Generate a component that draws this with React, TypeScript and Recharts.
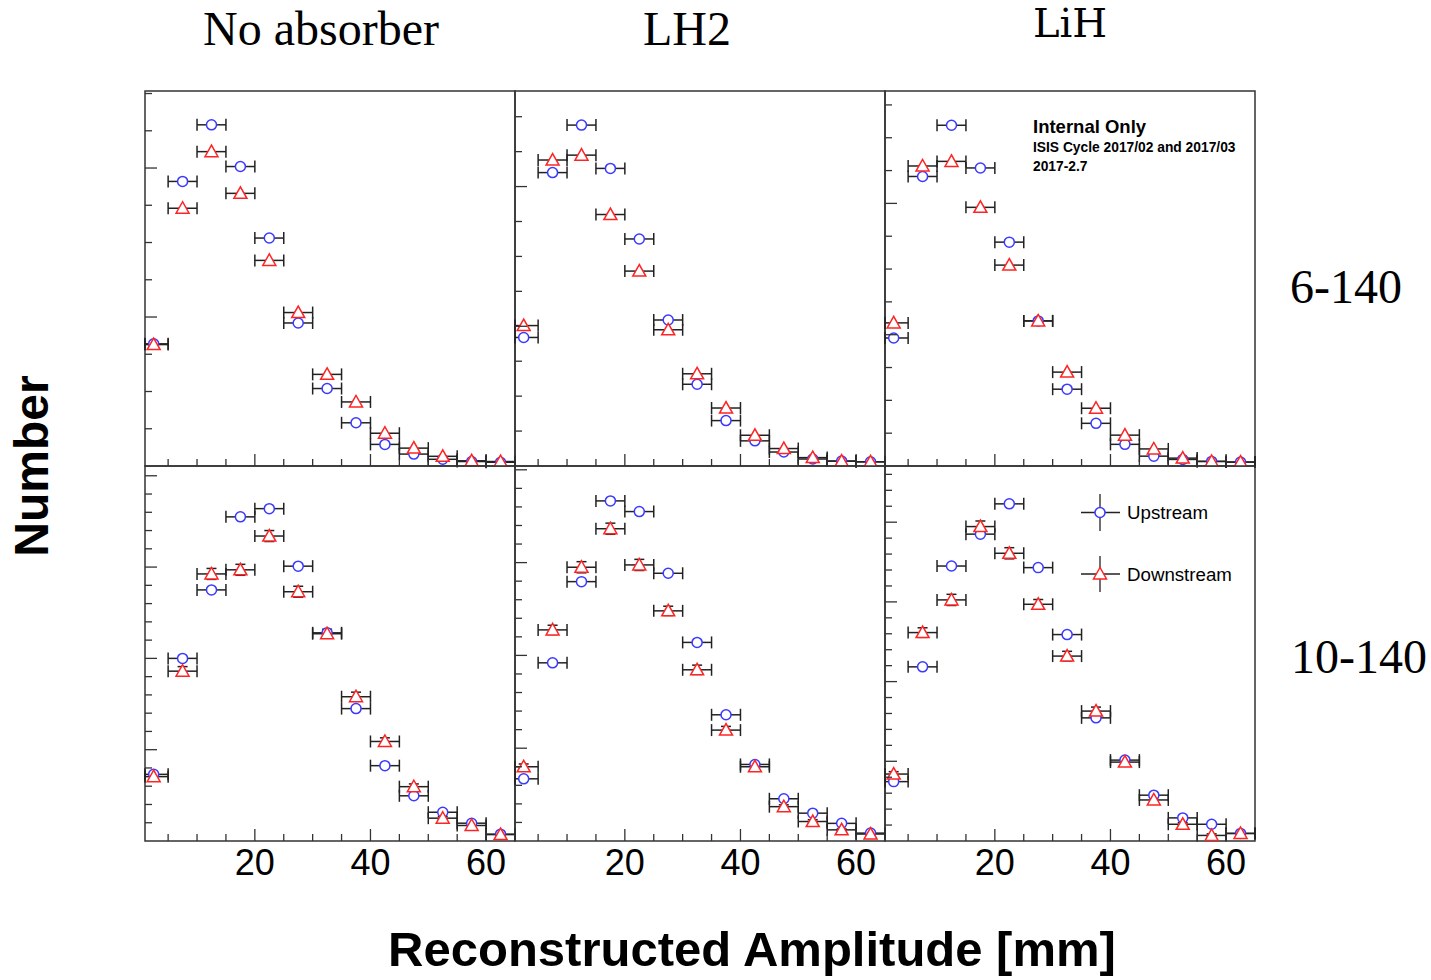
import { ScatterChart, Scatter, XAxis, YAxis, ErrorBar, ReferenceArea } from "recharts";

// bin centres of the reconstructed amplitude histogram [mm]
const BIN_CENTRES = [2.5, 7.5, 12.5, 17.5, 22.5, 27.5, 32.5, 37.5, 42.5, 47.5, 52.5, 57.5, 62.5];
const BIN_HALF_WIDTH = 2.5;
const X_MIN = 1;
const X_MAX = 65;

// 6-140 row
const NOABS_6_UP = [82, 191, 229, 201, 153, 96, 52, 29, 14.5, 8, 4.5, 3, 2.5];
const NOABS_6_DOWN = [81.5, 173, 211, 183, 138, 103, 61.5, 43, 22, 12, 6.5, 3.5, 3];
const LH2_6_UP = [92, 210, 244, 213, 162.5, 104.5, 58.5, 32.5, 18, 10, 5, 3.5, 3];
const LH2_6_DOWN = [100.5, 219, 222.5, 180, 139.5, 97.5, 66, 41.5, 22, 12.5, 6, 3.5, 3];
const LIH_6_UP = [97.5, 220.5, 259.5, 227, 170.5, 110.5, 58.5, 32.5, 16.5, 7.5, 5, 3.5, 3];
const LIH_6_DOWN = [109, 228.5, 232, 197, 153, 110.5, 71.5, 44, 23.5, 13, 6, 3.5, 3];

// 10-140 row
const NOABS_10_UP = [73, 200, 275, 355, 364, 301, 228, 145, 82.5, 49.5, 31.5, 19.5, 7.5];
const NOABS_10_DOWN = [70.5, 186, 292.5, 297, 334, 273, 227, 158, 109, 59.5, 25, 17, 7];
const NOABS_10_DOWN_ERR = [3, 5, 6, 6, 6, 6, 5, 5, 4, 3, 2, 2, 1];
const LH2_10_UP = [67, 192, 279.5, 366.5, 355, 288.5, 214, 136, 82.5, 45.5, 30, 19, 8.5];
const LH2_10_DOWN = [80, 227.5, 295, 336.5, 297.5, 248, 184.5, 119.5, 80, 37, 21, 12, 7.5];
const LH2_10_DOWN_ERR = [3, 5, 6, 6, 6, 5, 5, 4, 3, 2, 2, 1, 1];
const LIH_10_UP = [74.5, 218.5, 345, 385, 423, 343, 259, 154.5, 101.5, 57.5, 29, 21, 9.5];
const LIH_10_DOWN = [84, 261.5, 302.5, 394.5, 361, 297, 232, 163, 99, 51.5, 21, 7, 9.5];
const LIH_10_DOWN_ERR = [3, 6, 7, 7, 7, 6, 6, 5, 4, 3, 2, 2, 1];

const X_TICKS = [5, 10, 15, 20, 25, 30, 35, 40, 45, 50, 55, 60];
const TOP_Y_TICKS = [25, 50, 75, 100, 125, 150, 175, 200, 225, 250, 275];
const BOTTOM_Y_TICKS = [20, 40, 60, 80, 100, 120, 140, 160, 180, 200, 220, 240, 260, 280, 300, 320, 340, 360, 380, 400, 420, 440, 460];

const COLUMN_TITLES = ["No absorber", "LH2", "LiH"];
const ROW_LABELS = ["6-140", "10-140"];

const BLUE = "#3a3aff";
const RED = "#ff2424";
const INK = "#333";

const PANEL_W = 370;
const PANEL_H = 375;
const LEFT0 = 145;
const TOP0 = 91;
const PAD = 10;

const sans = "'Liberation Sans', Arial, Helvetica, sans-serif";
const serif = "'Liberation Serif', 'Times New Roman', serif";

// x error is the bin half width, cut at the frame edge like the original
function toRows(ys: number[], yErr?: number[]) {
  return BIN_CENTRES.map((x, i) => ({
    x,
    y: ys[i],
    xErr: [Math.min(BIN_HALF_WIDTH, x - X_MIN), Math.min(BIN_HALF_WIDTH, X_MAX - x)],
    yErr: yErr ? yErr[i] : 0,
  }));
}

const panels = [
  { row: 0, col: 0, yMax: 251.7, up: NOABS_6_UP, down: NOABS_6_DOWN },
  { row: 0, col: 1, yMax: 268.4, up: LH2_6_UP, down: LH2_6_DOWN },
  { row: 0, col: 2, yMax: 285.6, up: LIH_6_UP, down: LIH_6_DOWN },
  { row: 1, col: 0, yMax: 410.7, up: NOABS_10_UP, down: NOABS_10_DOWN, downErr: NOABS_10_DOWN_ERR },
  { row: 1, col: 1, yMax: 404.1, up: LH2_10_UP, down: LH2_10_DOWN, downErr: LH2_10_DOWN_ERR },
  { row: 1, col: 2, yMax: 470.5, up: LIH_10_UP, down: LIH_10_DOWN, downErr: LIH_10_DOWN_ERR },
];

const makeXTick = (showLabel: boolean) => (props: any) => {
  const { x, y, payload } = props;
  const v = payload.value;
  const major = v % 20 === 0;
  return (
    <g>
      <line x1={x} x2={x} y1={y} y2={y - (major ? 12 : 7)} stroke={INK} strokeWidth={1.3} />
      {showLabel && major && (
        <text x={x} y={y + 34} textAnchor="middle" fontSize={36} fontFamily={sans} fill="#000">
          {v}
        </text>
      )}
    </g>
  );
};

const YTick = (props: any) => {
  const { x, y, payload } = props;
  const major = payload.value % 100 === 0;
  return <line x1={x} x2={x + (major ? 12 : 7)} y1={y} y2={y} stroke={INK} strokeWidth={1.3} />;
};

const OpenCircle = (props: any) => (
  <circle cx={props.cx} cy={props.cy} r={5} fill="#fff" stroke={BLUE} strokeWidth={1.5} />
);

const OpenTriangle = (props: any) => {
  const { cx, cy } = props;
  return (
    <polygon
      points={`${cx},${cy - 6.5} ${cx - 6.5},${cy + 5} ${cx + 6.5},${cy + 5}`}
      fill="#fff"
      stroke={RED}
      strokeWidth={1.5}
    />
  );
};

function Panel({ p }: { p: (typeof panels)[number] }) {
  const bottom = p.row === 1 ? 50 : PAD;
  const yTicks = (p.row === 0 ? TOP_Y_TICKS : BOTTOM_Y_TICKS).filter((t) => t < p.yMax);
  return (
    <div
      style={{
        position: "absolute",
        left: LEFT0 + p.col * PANEL_W - PAD,
        top: TOP0 + p.row * PANEL_H - PAD,
      }}
    >
      <ScatterChart
        width={PANEL_W + 2 * PAD}
        height={PANEL_H + PAD + bottom}
        margin={{ top: PAD, right: PAD, left: PAD - 1, bottom: bottom - 1 }}
      >
        <XAxis
          type="number"
          dataKey="x"
          domain={[X_MIN, X_MAX]}
          allowDataOverflow
          ticks={X_TICKS}
          interval={0}
          height={1}
          tickSize={0}
          tickMargin={0}
          axisLine={false}
          tickLine={false}
          tick={makeXTick(p.row === 1)}
        />
        <YAxis
          type="number"
          dataKey="y"
          domain={[0, p.yMax]}
          allowDataOverflow
          ticks={yTicks}
          interval={0}
          width={1}
          tickSize={0}
          tickMargin={0}
          axisLine={false}
          tickLine={false}
          tick={YTick}
        />
        <ReferenceArea x1={X_MIN} x2={X_MAX} y1={0} y2={p.yMax} fill="none" stroke={INK} strokeWidth={1.5} />
        <Scatter data={toRows(p.up)} shape={OpenCircle} isAnimationActive={false}>
          <ErrorBar dataKey="xErr" direction="x" width={6} stroke="#222" strokeWidth={1.5} />
        </Scatter>
        <Scatter data={toRows(p.down, p.downErr)} shape={OpenTriangle} isAnimationActive={false}>
          <ErrorBar dataKey="xErr" direction="x" width={6} stroke="#222" strokeWidth={1.5} />
          {p.downErr && <ErrorBar dataKey="yErr" direction="y" width={5} stroke="#222" strokeWidth={1.5} />}
        </Scatter>
      </ScatterChart>
    </div>
  );
}

function Overlay() {
  return (
    <svg width={1431} height={980} style={{ position: "absolute", left: 0, top: 0, pointerEvents: "none" }}>
      <text x={203} y={44.5} fontSize={48} fontFamily={serif}>{COLUMN_TITLES[0]}</text>
      <text x={643} y={44.5} fontSize={48} fontFamily={serif}>{COLUMN_TITLES[1]}</text>
      <text x={1033} y={37} fontSize={40} fontFamily="'DejaVu Serif', serif">{COLUMN_TITLES[2]}</text>
      <text x={1290} y={303} fontSize={48} fontFamily={serif}>{ROW_LABELS[0]}</text>
      <text x={1291} y={673} fontSize={48} fontFamily={serif}>{ROW_LABELS[1]}</text>
      <text
        transform="translate(48,466) rotate(-90)"
        textAnchor="middle"
        fontSize={48}
        fontWeight="bold"
        fontFamily={sans}
      >
        Number
      </text>
      <text x={752} y={966} textAnchor="middle" fontSize={49} fontWeight="bold" fontFamily={sans}>
        Reconstructed Amplitude [mm]
      </text>

      <text x={1033} y={132.5} fontSize={18.5} fontWeight="bold" fontFamily={sans}>Internal Only</text>
      <text x={1033} y={151.5} fontSize={13.8} fontWeight="bold" fontFamily={sans}>ISIS Cycle 2017/02 and 2017/03</text>
      <text x={1033} y={170.5} fontSize={13.8} fontWeight="bold" fontFamily={sans}>2017-2.7</text>

      <g stroke="#222" strokeWidth={1.3}>
        <line x1={1081} x2={1120} y1={512.5} y2={512.5} />
        <line x1={1100} x2={1100} y1={494} y2={531} />
        <line x1={1081} x2={1120} y1={574} y2={574} />
        <line x1={1100} x2={1100} y1={556} y2={592} />
      </g>
      <OpenCircle cx={1100} cy={512.5} />
      <OpenTriangle cx={1100} cy={574} />
      <text x={1127} y={518.5} fontSize={18.7} fontFamily={sans}>Upstream</text>
      <text x={1127} y={581} fontSize={18.7} fontFamily={sans}>Downstream</text>
    </svg>
  );
}

export default function App() {
  return (
    <div style={{ position: "absolute", left: 0, top: 0, width: 1431, height: 980, background: "#fff" }}>
      {panels.map((p) => (
        <Panel key={`${p.row}-${p.col}`} p={p} />
      ))}
      <Overlay />
    </div>
  );
}
